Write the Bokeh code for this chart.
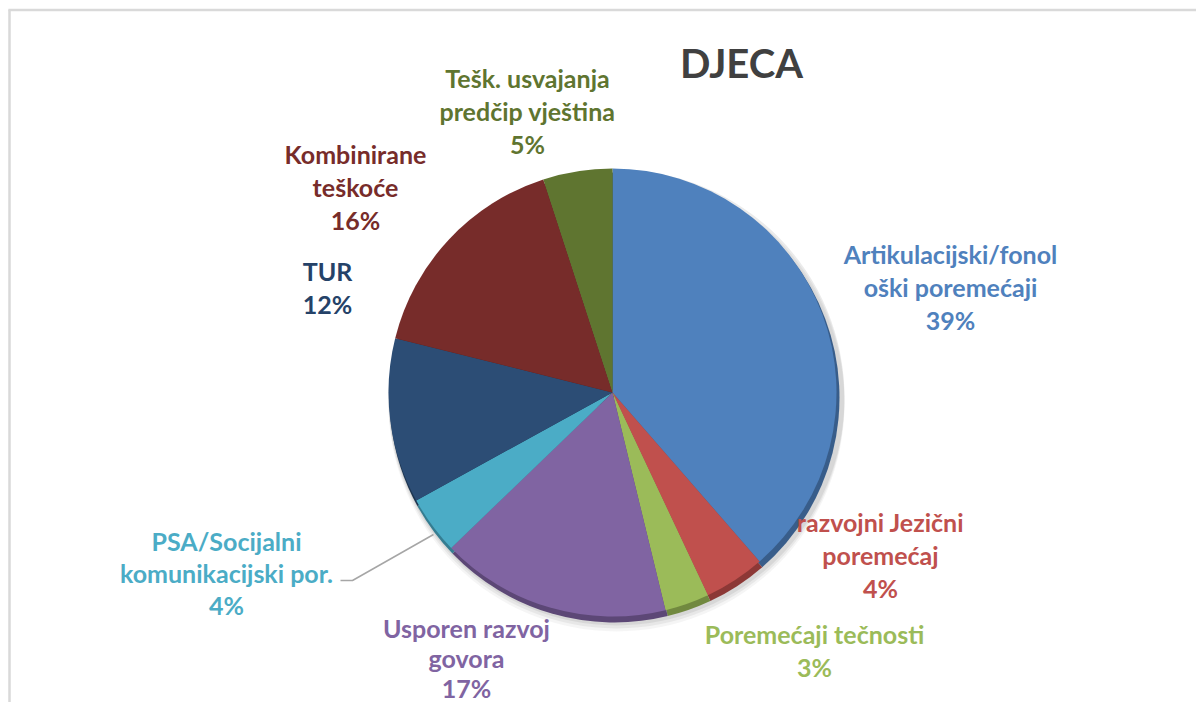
import math
from bokeh.plotting import figure
from bokeh.models import ColumnDataSource, Range1d
from bokeh.core.properties import value
from bokeh.embed import file_html
from bokeh.resources import INLINE

# ---- data ----
categories = [
    "Artikulacijski/fonol\noški poremećaji",
    "razvojni Jezični\nporemećaj",
    "Poremećaji tečnosti",
    "Usporen razvoj\ngovora",
    "PSA/Socijalni\nkomunikacijski por.",
    "TUR",
    "Kombinirane\nteškoće",
    "Tešk. usvajanja\npredčip vještina",
]
shares = [38.6, 4.4, 3.2, 16.6, 4.2, 11.9, 16.1, 5.0]
slice_colors = ["#4F81BD", "#C0504D", "#9BBB59", "#8064A2",
                "#4BACC6", "#2C4D75", "#772C2A", "#5F7530"]
rim_colors = ["#385D8A", "#8C3836", "#71893F", "#5C4776",
              "#357D91", "#1E3550", "#521E1D", "#415021"]
label_colors = ["#4F81BD", "#C0504D", "#9BBB59", "#8064A2",
                "#4BACC6", "#254268", "#772C2A", "#5F7530"]
title_text = "DJECA"

# ---- layout (screen pixels) ----
W, H = 1196, 702
def X(sx):
    return sx
def Y(sy):
    return H - sy

label_pos = [  # centre x, first line centre y, line step (screen)
    (950, 253, 33), (880, 521, 33), (814, 633, 33), (466, 627, 30),
    (226, 540, 32), (327, 270, 33), (355, 153, 33), (527, 77, 33),
]
font = "Lato"

p = figure(width=W, height=H, output_backend="svg", toolbar_location=None,
           x_range=Range1d(0, W), y_range=Range1d(0, H), min_border=0)
p.axis.visible = False
p.grid.visible = False
p.outline_line_color = None
p.background_fill_color = "white"
p.border_fill_color = "white"

# frame border (top & left visible)
p.line([X(8), X(1204)], [Y(9.5), Y(9.5)], line_color="#d9d9d9", line_width=2.5)
p.line([X(9), X(9)], [Y(9), Y(710)], line_color="#d9d9d9", line_width=2.5)

# pie geometry
cx, cy, r = X(612), Y(392), 224
total = sum(shares)
starts, ends = [], []
acc = 0.0
for s in shares:
    starts.append(math.pi / 2 - 2 * math.pi * acc / total)
    acc += s
    ends.append(math.pi / 2 - 2 * math.pi * acc / total)

src = ColumnDataSource(dict(start=starts, end=ends, color=slice_colors,
                            rim=rim_colors, cat=categories, share=shares))

# soft shadow
for off, a in [(11, 0.10), (8, 0.15), (5, 0.2)]:
    p.wedge(x=cx + 4, y=cy - off, radius=r + 4, start_angle=0, end_angle=2 * math.pi,
            fill_color="#9a9a9a", fill_alpha=a, line_color=None)
# rim (3D thickness)
p.wedge(x=cx + 2, y=cy - 5, radius=r + 1, start_angle="start", end_angle="end",
        direction="clock", fill_color="rim", line_color=None, source=src)
# face
p.wedge(x=cx, y=cy, radius=r, start_angle="start", end_angle="end",
        direction="clock", fill_color="color", line_color=None, source=src)

# leader line for PSA label
p.line([X(340), X(352), X(433)], [Y(580), Y(580), Y(534)],
       line_color="#a6a6a6", line_width=1.5)

# labels
tx, ty, tt, tc = [], [], [], []
for cat, sh, (lx, ly, step), col in zip(categories, shares, label_pos, label_colors):
    lines = cat.split("\n") + ["%d%%" % round(sh)]
    for i, ln in enumerate(lines):
        tx.append(X(lx)); ty.append(Y(ly + i * step)); tt.append(ln); tc.append(col)
p.text(x=tx, y=ty, text=tt, text_color=tc, text_font=value(font),
       text_font_style="bold", text_font_size="25px",
       text_align="center", text_baseline="middle")

# title
p.text(x=[X(741)], y=[Y(62)], text=[title_text], text_color="#404040",
       text_font=value(font), text_font_style="bold", text_font_size="40px",
       text_align="center", text_baseline="middle")

open("out.html", "w").write(file_html(p, INLINE))
